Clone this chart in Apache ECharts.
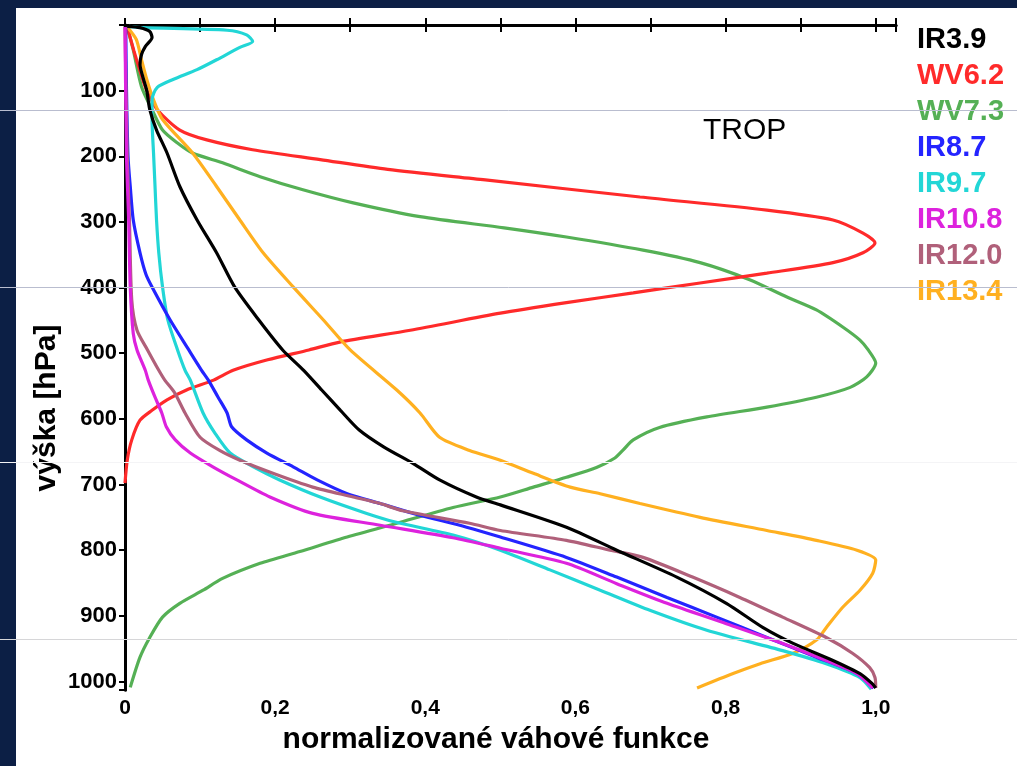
<!DOCTYPE html>
<html>
<head>
<meta charset="utf-8">
<script src="https://cdn.jsdelivr.net/npm/echarts@6/dist/echarts.min.js"></script>
<style>
html,body{margin:0;padding:0;background:#fff;}
#c{width:1017px;height:766px;}
</style>
</head>
<body>
<div id="c"></div>
<script>
// Channel names and colours
const channels = ['IR3.9','WV6.2','WV7.3','IR8.7','IR9.7','IR10.8','IR12.0','IR13.4'];
const colors = ['#000000','#ff2a2a','#55b055','#2424ff','#22d6d6','#dd22dd','#b0607a','#ffb020'];

// Weighting functions: [normalised weight, pressure hPa]
const ir39 = [[0.003,2],[0.02,4],[0.033,10],[0.036,19],[0.027,33],[0.022,45],[0.02,60],[0.024,80],[0.029,100],[0.033,129],[0.042,160],[0.056,195],[0.073,246],[0.096,297],[0.122,347],[0.146,399],[0.178,449],[0.21,495],[0.238,526],[0.262,556],[0.287,587],[0.312,617],[0.345,643],[0.384,668],[0.419,693],[0.468,719],[0.5,731],[0.588,765],[0.655,800],[0.735,841],[0.801,881],[0.85,918],[0.89,942],[0.943,968],[0.979,988],[0.995,1003],[1.0,1010]];
const wv62 = [[0.003,3],[0.012,40],[0.02,70],[0.029,100],[0.043,129],[0.073,160],[0.109,175],[0.17,190],[0.26,205],[0.35,220],[0.48,236],[0.686,262],[0.855,282],[0.943,297],[0.983,317],[0.999,332],[0.983,347],[0.943,362],[0.855,378],[0.766,393],[0.677,408],[0.588,423],[0.5,439],[0.38,465],[0.286,483],[0.245,495],[0.19,510],[0.144,526],[0.118,541],[0.082,556],[0.056,571],[0.036,587],[0.02,602],[0.009,632],[0.003,663],[0.0,698]];
const wv73 = [[0.003,3],[0.011,38],[0.022,94],[0.036,129],[0.05,160],[0.069,179],[0.09,195],[0.13,210],[0.18,231],[0.237,251],[0.304,271],[0.393,292],[0.505,309],[0.588,323],[0.69,343],[0.766,362],[0.832,388],[0.881,414],[0.921,434],[0.956,460],[0.979,480],[0.99,495],[1.0,515],[0.988,536],[0.966,552],[0.921,567],[0.855,582],[0.775,597],[0.712,613],[0.677,632],[0.663,648],[0.652,660],[0.628,674],[0.588,689],[0.544,704],[0.5,719],[0.437,735],[0.362,759],[0.296,780],[0.233,802],[0.18,820],[0.13,843],[0.104,861],[0.073,881],[0.05,902],[0.033,933],[0.02,963],[0.007,1009]];
const ir87 = [[0.001,3],[0.002,100],[0.004,200],[0.007,246],[0.011,297],[0.02,347],[0.028,380],[0.036,399],[0.06,449],[0.085,495],[0.102,526],[0.111,541],[0.124,567],[0.136,591],[0.142,612],[0.162,632],[0.189,652],[0.224,673],[0.256,693],[0.296,714],[0.34,729],[0.384,744],[0.455,765],[0.5,780],[0.588,811],[0.655,841],[0.722,872],[0.788,902],[0.855,933],[0.921,963],[0.975,988],[0.997,1010]];
const ir97 = [[0.005,2],[0.024,4],[0.136,8],[0.162,15],[0.170,25],[0.153,34],[0.122,53],[0.096,68],[0.064,83],[0.043,95],[0.036,114],[0.036,144],[0.038,195],[0.04,246],[0.042,297],[0.045,347],[0.05,399],[0.057,449],[0.07,495],[0.08,526],[0.087,541],[0.104,591],[0.12,622],[0.14,652],[0.171,673],[0.206,693],[0.26,719],[0.322,744],[0.36,757],[0.437,777],[0.5,800],[0.566,830],[0.633,861],[0.7,892],[0.775,922],[0.876,953],[0.934,973],[0.979,994],[0.994,1012]];
const ir108 = [[0.0,3],[0.002,200],[0.005,300],[0.007,400],[0.011,470],[0.016,495],[0.027,526],[0.031,541],[0.04,567],[0.049,591],[0.055,612],[0.067,632],[0.087,652],[0.117,673],[0.149,693],[0.193,719],[0.25,744],[0.34,762],[0.437,781],[0.5,797],[0.588,820],[0.655,851],[0.722,881],[0.801,912],[0.876,942],[0.934,968],[0.975,988],[0.996,1010]];
const ir120 = [[0.0,3],[0.003,200],[0.006,300],[0.009,419],[0.016,465],[0.03,495],[0.045,526],[0.053,541],[0.066,560],[0.08,591],[0.1,628],[0.126,648],[0.153,663],[0.197,683],[0.25,704],[0.304,719],[0.34,729],[0.37,740],[0.459,759],[0.5,770],[0.588,785],[0.646,800],[0.69,811],[0.756,841],[0.819,872],[0.876,902],[0.934,933],[0.969,957],[0.992,979],[0.999,994],[1.0,1010]];
const ir134 = [[0.003,3],[0.015,22],[0.022,53],[0.029,83],[0.038,114],[0.05,144],[0.09,195],[0.122,246],[0.153,297],[0.184,347],[0.224,399],[0.264,449],[0.3,495],[0.362,556],[0.393,591],[0.419,628],[0.459,648],[0.5,663],[0.544,683],[0.593,704],[0.633,714],[0.686,729],[0.766,750],[0.855,770],[0.921,785],[0.975,800],[1.0,815],[0.996,835],[0.979,861],[0.956,887],[0.934,918],[0.921,937],[0.89,957],[0.846,973],[0.81,988],[0.762,1010]];

const seriesData = [ir39, wv62, wv73, ir87, ir97, ir108, ir120, ir134];
const drawOrder = [2, 1, 7, 4, 3, 6, 5, 0];

const yTicks = [100,200,300,400,500,600,700,800,900,1000];
const xTickLabels = {0:'0',2:'0,2',4:'0,4',6:'0,6',8:'0,8',10:'1,0'};

const FONT = '"Liberation Sans", Arial, sans-serif';
const chart = echarts.init(document.getElementById('c'), null, {renderer:'canvas'});

const axisLine = {show:true, lineStyle:{color:'#000', width:3}};
const series = drawOrder.map(i => ({
  name: channels[i],
  type: 'line',
  xAxisIndex: 0, yAxisIndex: 0,
  data: seriesData[i],
  showSymbol: false,
  symbol: 'none',
  smooth: 0.25,
  lineStyle: {color: colors[i], width: 3.2},
  itemStyle: {color: colors[i]},
  animation: false,
  z: 2
}));

const option = {
  animation: false,
  backgroundColor: '#ffffff',
  textStyle: {fontFamily: FONT},
  grid: {left: 125, right: 121, top: 25, bottom: 76, containLabel: false},
  legend: {
    orient: 'vertical',
    left: 907, top: 20,
    icon: 'none',
    itemWidth: 0, itemHeight: 14, itemGap: 7,
    selectedMode: false,
    data: channels.map((n,i) => ({name: n, textStyle: {color: colors[i], fontSize: 29, fontWeight: 'bold', fontFamily: FONT, lineHeight: 29}}))
  },
  xAxis: [
    {type:'value', position:'bottom', min:0, max:1.027, interval:0.1,
     axisLine: axisLine,
     axisTick: {show:true, inside:true, length:7, lineStyle:{color:'#000', width:2}},
     axisLabel: {show:true, margin:8, color:'#000', fontSize:21, fontWeight:'bold', fontFamily:FONT,
       formatter: v => { const k = Math.round(v*10); return (Math.abs(v*10-k) < 1e-6 && xTickLabels[k] !== undefined) ? xTickLabels[k] : ''; }},
     splitLine: {show:false}},
    {type:'value', position:'top', min:0, max:1.027, interval:0.1,
     axisLine: axisLine,
     axisTick: {show:true, inside:true, length:7, lineStyle:{color:'#000', width:2}},
     axisLabel: {show:false}, splitLine:{show:false}}
  ],
  yAxis: [
    {type:'value', position:'left', inverse:true, min:0, max:1013, interval:100,
     axisLine: axisLine,
     axisTick: {show:true, inside:false, length:6, lineStyle:{color:'#000', width:2}},
     axisLabel: {show:true, margin:8, color:'#000', fontSize:22, fontWeight:'bold', fontFamily:FONT,
       formatter: v => (yTicks.indexOf(Math.round(v)) >= 0 && Math.abs(v-Math.round(v))<1e-6) ? String(Math.round(v)) : ''},
     splitLine: {show:false}},
    {type:'value', position:'right', inverse:true, min:0, max:1013, interval:100,
     axisLine: axisLine,
     axisTick: {show:true, inside:true, length:6, lineStyle:{color:'#000', width:2}},
     axisLabel: {show:false}, splitLine:{show:false}}
  ],
  graphic: [
    {type:'rect', left:0, top:0, shape:{width:1017, height:8}, style:{fill:'#0c1f45'}, z:100},
    {type:'rect', left:0, top:0, shape:{width:16, height:766}, style:{fill:'#0c1f45'}, z:100},
    {type:'text', x:703, y:131, style:{text:'TROP', fill:'#000', font:'30px '+FONT, align:'left', verticalAlign:'middle'}, z:50},
    {type:'text', x:496, y:740, style:{text:'normalizované váhové funkce', fill:'#000', font:'bold 30px '+FONT, align:'center', verticalAlign:'middle'}, z:50},
    {type:'text', x:47, y:408, rotation:Math.PI/2, style:{text:'výška [hPa]', fill:'#000', font:'bold 30px '+FONT, align:'center', verticalAlign:'middle'}, z:50},
    {type:'line', shape:{x1:0, y1:110.5, x2:1017, y2:110.5}, style:{stroke:'#b9bdcf', lineWidth:1}, z:200},
    {type:'line', shape:{x1:0, y1:287.5, x2:1017, y2:287.5}, style:{stroke:'#b9bdcf', lineWidth:1}, z:200},
    {type:'line', shape:{x1:0, y1:462.5, x2:1017, y2:462.5}, style:{stroke:'#f4f4f6', lineWidth:1}, z:200},
    {type:'line', shape:{x1:0, y1:639.5, x2:1017, y2:639.5}, style:{stroke:'#d6d6d8', lineWidth:1}, z:200}
  ],
  series: series
};
chart.setOption(option);
</script>
</body>
</html>
